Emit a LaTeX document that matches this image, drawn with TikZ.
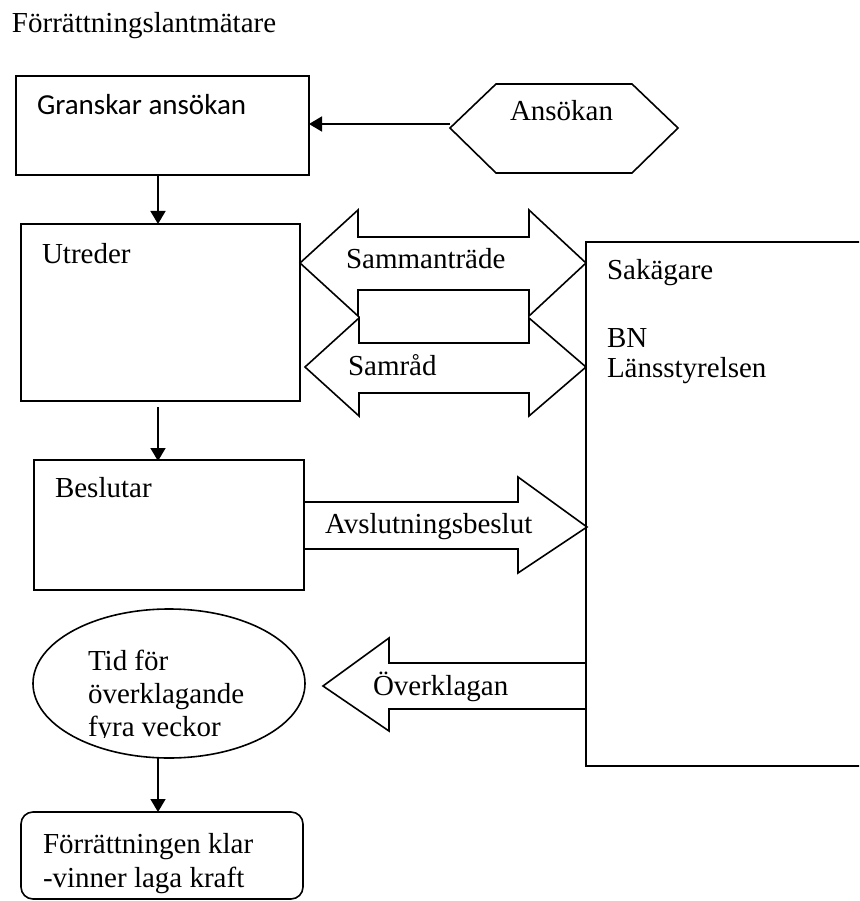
\documentclass[tikz,border=0pt]{standalone}
\usepackage{fontspec}
\setmainfont{Liberation Serif}
\newfontfamily\calfont{Carlito}
\usetikzlibrary{shapes.geometric,arrows.meta}
\begin{document}
\begin{tikzpicture}[x=1pt,y=-1pt,
  every node/.style={inner sep=0pt,outer sep=0pt},
  line width=1.6pt,
  box/.style={draw,anchor=north west,rectangle},
  txt/.style={anchor=base west,font=\fontsize{29}{33}\selectfont},
  conn/.style={-{Triangle[width=15pt,length=13pt]},line width=1.6pt},
  blockarrow/.style={draw,fill=white,line join=miter}]
\useasboundingbox (0,0) rectangle (859,901);
\clip (0,0) rectangle (859,901);
% title
\node[txt] (title) at (12,33) {Förrättningslantmätare};
% boxes
\node[box,minimum width=293pt,minimum height=99pt] (gran) at (16,76) {};
\node[txt,font=\calfont\fontsize{29}{33}\selectfont] (grant) at (37,115) {Granskar ansökan};
\node[box,minimum width=279pt,minimum height=177pt] (utr) at (21,224) {};
\node[txt] (utrt) at (42,263) {Utreder};
\node[box,minimum width=270pt,minimum height=130pt] (besl) at (34,460) {};
\node[txt] (beslt) at (55,497) {Beslutar};
\node[box,minimum width=320pt,minimum height=524pt] (sak) at (586,242) {};
\node[txt] (sakt1) at (607,279) {Sakägare};
\node[txt] (sakt2) at (607,347) {BN};
\node[txt] (sakt3) at (607,377) {Länsstyrelsen};
% hexagon
\draw[line join=miter] (450,128) -- (496,84) -- (632,84) -- (678,128) -- (632,173) -- (496,173) -- cycle;
\coordinate (hexL) at (450,124);
\node[txt] (ans) at (510,121) {Ansökan};
% ellipse
\node[draw,ellipse,minimum width=272pt,minimum height=149pt] (tid) at (169,683.5) {};
\node[txt] (tid1) at (88,670) {Tid för};
\node[txt] (tid2) at (88,703) {överklagande};
\begin{scope}
\clip (80,700) rectangle (260,737);
\node[txt] (tid3) at (88,736) {fyra veckor};
\end{scope}
% rounded final box
\node[box,rounded corners=12pt,minimum width=282pt,minimum height=87pt] (klar) at (21,812) {};
\node[txt] (klar1) at (43,853) {Förrättningen klar};
\node[txt] (klar2) at (43,887) {-vinner laga kraft};
% connectors
\coordinate (cx) at (158,0);
\draw[conn] (hexL) -- (gran.east |- hexL);
\draw[conn] (gran.south -| cx) -- (utr.north -| cx);
\draw[conn] ([yshift=-6pt]utr.south -| cx) -- ([yshift=-1pt]besl.north -| cx);
\draw[conn] (tid.south -| cx) -- (klar.north -| cx);
% block arrows
\draw[blockarrow] (300,263) -- (358,210) -- (358,237) -- (529,237) -- (529,210) -- (586,263) -- (529,316) -- (529,290) -- (358,290) -- (358,316) -- cycle;
\node[txt] (samm) at (346,268) {Sammanträde};
\draw[blockarrow] (305,367) -- (359,318) -- (359,343) -- (529,343) -- (529,318) -- (586,367) -- (529,416) -- (529,393) -- (359,393) -- (359,416) -- cycle;
\node[txt] (samr) at (348,375) {Samråd};
\draw[line join=miter] (304,502) -- (518,502) -- (518,477) -- (587,527) -- (518,573) -- (518,549) -- (304,549);
\node[txt] (avsl) at (325,533) {Avslutningsbeslut};
\draw[line join=miter] (586,663) -- (389,663) -- (389,638) -- (323,686) -- (389,731) -- (389,709) -- (586,709);
\node[txt] (overk) at (373,695) {Överklagan};
\end{tikzpicture}
\end{document}
